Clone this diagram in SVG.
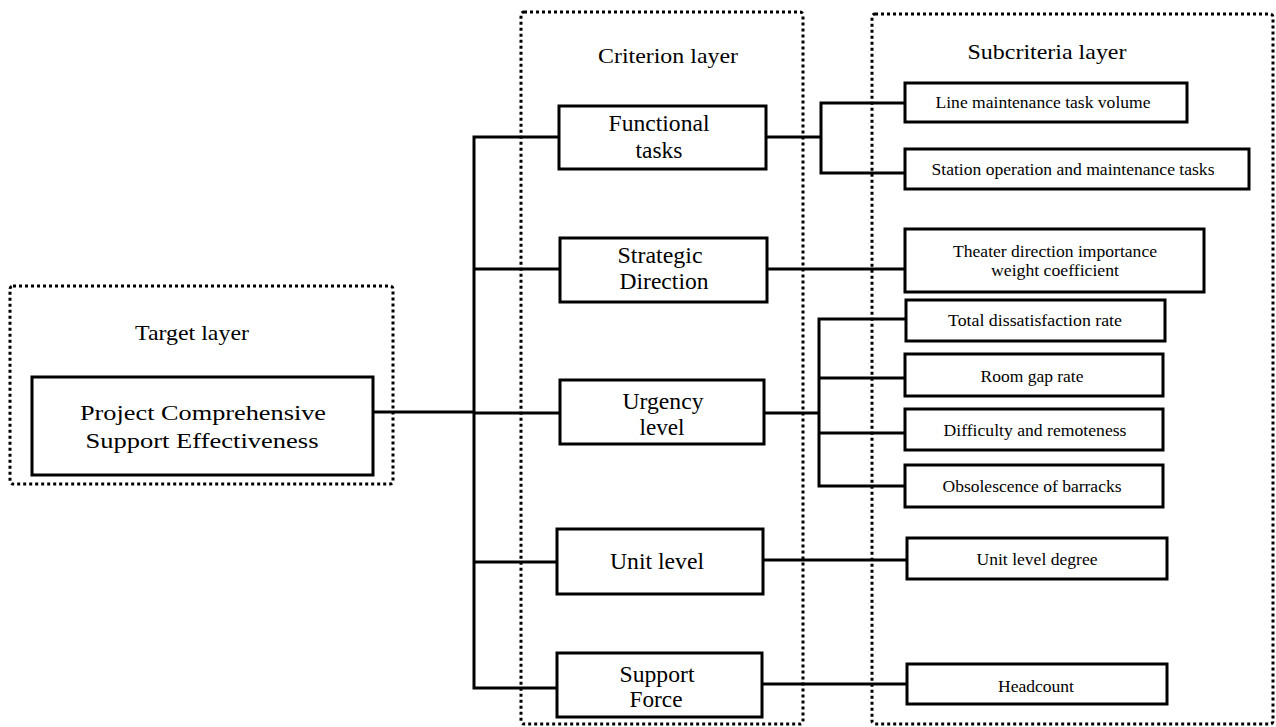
<svg xmlns="http://www.w3.org/2000/svg" width="1276" height="727" viewBox="0 0 1276 727">
<style>
.layer{fill:none;stroke:#000;stroke-width:3;stroke-dasharray:3 3}
.box{fill:#fff;stroke:#000;stroke-width:3}
.ln{fill:none;stroke:#000;stroke-width:3;stroke-linecap:square}
text{font-family:"Liberation Serif","Times New Roman",serif;fill:#000;text-anchor:middle}
.t{font-size:22px}
.c{font-size:23px}
.s{font-size:17px}
</style>
<rect width="1276" height="727" fill="#fff"/>
<g id="layers">
<rect class="layer" x="10" y="286" width="383" height="198" rx="3"/>
<rect class="layer" x="521" y="12" width="282" height="712" rx="3"/>
<rect class="layer" x="872" y="14" width="401" height="710" rx="3"/>
<text class="t" x="192" y="340" textLength="114" lengthAdjust="spacingAndGlyphs">Target layer</text>
<text class="t" x="668" y="63" textLength="140" lengthAdjust="spacingAndGlyphs">Criterion layer</text>
<text class="t" x="1047" y="59" textLength="159" lengthAdjust="spacingAndGlyphs">Subcriteria layer</text>
</g>
<g id="connectors">
<path class="ln" d="M373 412H474M474 137V688M474 137H559M474 269H560M474 413H560M474 562H557M474 688H557"/>
<path class="ln" d="M766 137H821M821 103V173M821 103H905M821 173H905"/>
<path class="ln" d="M767 269H905"/>
<path class="ln" d="M764 413H819M819 319V486M819 319H906M819 378H905M819 433H905M819 486H905"/>
<path class="ln" d="M763 560H907"/>
<path class="ln" d="M762 684H907"/>
</g>
<g id="target">
<rect class="box" x="32" y="377" width="341" height="98"/>
<text class="t" x="203" y="420" textLength="246" lengthAdjust="spacingAndGlyphs">Project Comprehensive</text>
<text class="t" x="202" y="448" textLength="233" lengthAdjust="spacingAndGlyphs">Support Effectiveness</text>
</g>
<g id="functional">
<rect class="box" x="559" y="106" width="207" height="63"/>
<text class="c" x="659" y="131" textLength="101" lengthAdjust="spacingAndGlyphs">Functional</text>
<text class="c" x="659" y="158" textLength="47" lengthAdjust="spacingAndGlyphs">tasks</text>
</g>
<g id="strategic">
<rect class="box" x="560" y="238" width="207" height="64"/>
<text class="c" x="660" y="263" textLength="85" lengthAdjust="spacingAndGlyphs">Strategic</text>
<text class="c" x="664" y="289" textLength="89" lengthAdjust="spacingAndGlyphs">Direction</text>
</g>
<g id="urgency">
<rect class="box" x="560" y="380" width="204" height="64"/>
<text class="c" x="663" y="409" textLength="81" lengthAdjust="spacingAndGlyphs">Urgency</text>
<text class="c" x="662" y="435" textLength="45" lengthAdjust="spacingAndGlyphs">level</text>
</g>
<g id="unit">
<rect class="box" x="557" y="529" width="206" height="65"/>
<text class="c" x="657" y="569" textLength="94" lengthAdjust="spacingAndGlyphs">Unit level</text>
</g>
<g id="support">
<rect class="box" x="557" y="653" width="205" height="64"/>
<text class="c" x="657" y="682" textLength="75" lengthAdjust="spacingAndGlyphs">Support</text>
<text class="c" x="656" y="707" textLength="53" lengthAdjust="spacingAndGlyphs">Force</text>
</g>
<g id="line-maintenance">
<rect class="box" x="905" y="83" width="282" height="39"/>
<text class="s" x="1043" y="108" textLength="215" lengthAdjust="spacingAndGlyphs">Line maintenance task volume</text>
</g>
<g id="station">
<rect class="box" x="905" y="149" width="344" height="40"/>
<text class="s" x="1073" y="175" textLength="283" lengthAdjust="spacingAndGlyphs">Station operation and maintenance tasks</text>
</g>
<g id="theater">
<rect class="box" x="905" y="229" width="299" height="63"/>
<text class="s" x="1055" y="257" textLength="204" lengthAdjust="spacingAndGlyphs">Theater direction importance</text>
<text class="s" x="1055" y="276" textLength="128" lengthAdjust="spacingAndGlyphs">weight coefficient</text>
</g>
<g id="dissatisfaction">
<rect class="box" x="906" y="300" width="259" height="41"/>
<text class="s" x="1035" y="326" textLength="174" lengthAdjust="spacingAndGlyphs">Total dissatisfaction rate</text>
</g>
<g id="room-gap">
<rect class="box" x="905" y="354" width="258" height="42"/>
<text class="s" x="1032" y="382" textLength="103" lengthAdjust="spacingAndGlyphs">Room gap rate</text>
</g>
<g id="difficulty">
<rect class="box" x="905" y="409" width="258" height="41"/>
<text class="s" x="1035" y="436" textLength="183" lengthAdjust="spacingAndGlyphs">Difficulty and remoteness</text>
</g>
<g id="obsolescence">
<rect class="box" x="905" y="465" width="258" height="42"/>
<text class="s" x="1032" y="492" textLength="179" lengthAdjust="spacingAndGlyphs">Obsolescence of barracks</text>
</g>
<g id="unit-degree">
<rect class="box" x="907" y="538" width="260" height="41"/>
<text class="s" x="1037" y="565" textLength="121" lengthAdjust="spacingAndGlyphs">Unit level degree</text>
</g>
<g id="headcount">
<rect class="box" x="907" y="664" width="260" height="40"/>
<text class="s" x="1036" y="692" textLength="76" lengthAdjust="spacingAndGlyphs">Headcount</text>
</g>
</svg>
